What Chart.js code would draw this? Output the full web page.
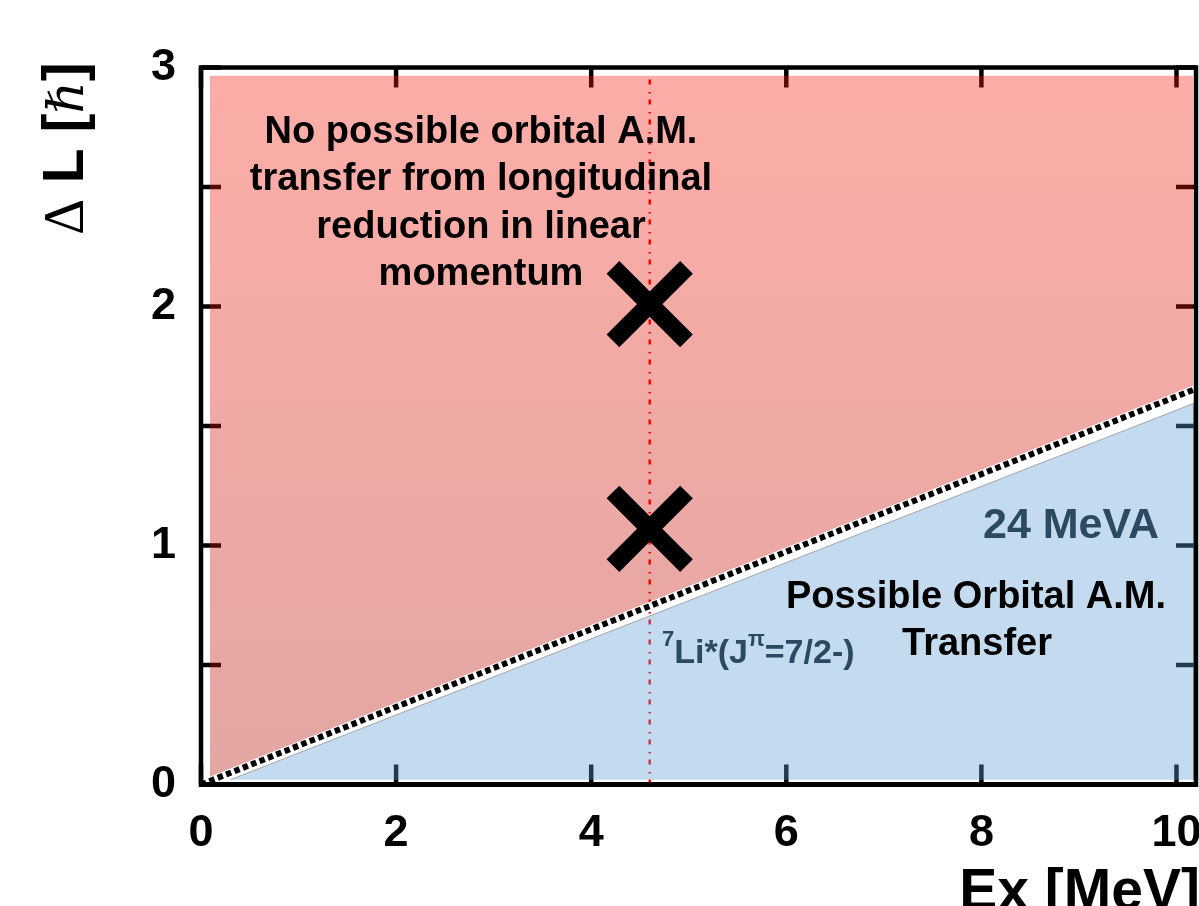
<!DOCTYPE html>
<html>
<head>
<meta charset="utf-8">
<script src="https://cdn.jsdelivr.net/npm/chart.js@4.4.1/dist/chart.umd.min.js"></script>
<style>
  html, body { margin: 0; padding: 0; background: #ffffff; }
  #wrap { width: 1199px; height: 906px; position: relative; }
</style>
</head>
<body>
<div id="wrap"><canvas id="c"></canvas></div>
<script>
// Axis limits and tick steps
const xRange = [0, 10.2];          // Ex [MeV]
const yRange = [0, 3];             // ΔL [ħ]
const xStep = 2;
const yStep = 0.5;

// Kinematic limit at 24 MeV/A: largest ΔL reachable for a given Ex
const limitEx = [0, 10.2];
const limitDL = [0, 1.656];

// Forbidden region (upper band), bounded below by the limit
const forbidTopEx = [0.09, 10.17];
const forbidTopDL = [2.965, 2.965];
const forbidLowEx = [0.09, 10.17];
const forbidLowDL = [0.02, 1.66];

// Allowed region (lower wedge)
const allowEx = [0.3, 10.18, 10.18];
const allowDL = [0.02, 1.595, 0.02];

// 7Li* (Jπ = 7/2-) excitation energy
const stateEx = [4.6, 4.6];
const stateDL = [0, 2.965];

// ΔL values excluded for that state
const crossEx = [4.6, 4.6];
const crossDL = [2.01, 1.07];

const pts = (xs, ys) => xs.map((x, i) => ({ x, y: ys[i] }));

const SANS = '"Liberation Sans", Arial, Helvetica, sans-serif';
const SLATE = '#2b4a5f';

// Inward tick marks on all four sides, drawn beneath the shaded regions,
// then the frame and annotations drawn on top.
const frameAndText = {
  id: 'frameAndText',
  beforeDatasetsDraw(chart) {
    const { ctx, chartArea: a, scales: { x, y } } = chart;
    const L = 20;
    ctx.save();
    ctx.strokeStyle = '#000';
    ctx.lineWidth = 4.5;
    ctx.beginPath();
    x.ticks.forEach(t => {
      const px = x.getPixelForValue(t.value);
      ctx.moveTo(px, a.bottom); ctx.lineTo(px, a.bottom - L);
      ctx.moveTo(px, a.top); ctx.lineTo(px, a.top + L);
    });
    y.ticks.forEach(t => {
      const py = y.getPixelForValue(t.value);
      ctx.moveTo(a.left, py); ctx.lineTo(a.left + L, py);
      ctx.moveTo(a.right, py); ctx.lineTo(a.right - L, py);
    });
    ctx.stroke();
    ctx.restore();
  },
  afterDatasetsDraw(chart) {
    const { ctx, chartArea: a } = chart;
    ctx.save();
    // frame
    ctx.strokeStyle = '#000';
    ctx.lineWidth = 4.5;
    ctx.strokeRect(a.left, a.top, a.right - a.left, a.bottom - a.top);
    ctx.lineWidth = 5;
    ctx.beginPath(); ctx.moveTo(a.left - 2, a.bottom); ctx.lineTo(a.right + 2, a.bottom); ctx.stroke();

    // region labels
    ctx.fillStyle = '#000';
    ctx.textAlign = 'center';
    ctx.textBaseline = 'alphabetic';
    ctx.font = 'bold 38px ' + SANS;
    ['No possible orbital A.M.', 'transfer from longitudinal', 'reduction in linear', 'momentum']
      .forEach((s, i) => ctx.fillText(s, 481, 143 + i * 47.3));
    ctx.fillText('Possible Orbital A.M.', 976, 608);
    ctx.fillText('Transfer', 977, 655);

    ctx.fillStyle = SLATE;
    ctx.font = 'bold 43px ' + SANS;
    ctx.fillText('24 MeVA', 1071, 538);

    // state label with superscripts
    ctx.textAlign = 'left';
    let xp = 662;
    const piece = (txt, size, base) => {
      ctx.font = 'bold ' + size + 'px ' + SANS;
      ctx.fillText(txt, xp, base);
      xp += ctx.measureText(txt).width;
    };
    piece('7', 22, 646);
    piece('Li*(J', 34, 663);
    piece('\u03C0', 22, 646);
    piece('=7/2-)', 34, 663);

    // axis titles
    ctx.fillStyle = '#000';
    ctx.textAlign = 'right';
    ctx.font = 'bold 57px ' + SANS;
    ctx.fillText('Ex [MeV]', 1200, 909);

    ctx.translate(83, 235);
    ctx.rotate(-Math.PI / 2);
    ctx.textAlign = 'left';
    let p = 0;
    [
      ['\u0394', '56px "Liberation Serif", serif'],
      [' L ', 'bold 57px ' + SANS],
      ['[', 'bold 57px ' + SANS],
      ['\u210F', 'italic 50px "DejaVu Serif", serif'],
      [']', 'bold 57px ' + SANS]
    ].forEach(([txt, font]) => {
      ctx.font = font;
      ctx.fillText(txt, p, 0);
      p += ctx.measureText(txt).width;
    });
    ctx.restore();
  }
};

const redGradient = (c) => {
  const ch = c.chart;
  const a = ch.chartArea;
  if (!a) return 'rgba(230,25,10,0.36)';
  const g = ch.ctx.createLinearGradient(0, a.top, 0, a.bottom);
  g.addColorStop(0, 'rgba(250,28,12,0.36)');
  g.addColorStop(1, 'rgba(174,8,0,0.36)');
  return g;
};

new Chart(document.getElementById('c'), {
  type: 'line',
  data: {
    datasets: [
      { // 0: forbidden region, filled down to its lower edge (dataset 1)
        data: pts(forbidTopEx, forbidTopDL),
        borderWidth: 0, pointRadius: 0,
        backgroundColor: redGradient,
        fill: 1, order: 7
      },
      { // 1: lower edge of forbidden region
        data: pts(forbidLowEx, forbidLowDL),
        borderWidth: 0, pointRadius: 0, fill: false, order: 8
      },
      { // 2: 7Li* state
        data: pts(stateEx, stateDL),
        borderColor: '#ff0000', borderWidth: 2.5,
        borderDash: [5, 6, 1.5, 7.5],
        pointRadius: 0, fill: false, order: 6
      },
      { // 3: allowed region
        data: pts(allowEx, allowDL),
        borderColor: 'rgba(110,110,110,0.55)', borderWidth: 1,
        backgroundColor: 'rgba(96,158,212,0.37)',
        pointRadius: 0, fill: { value: 0.02 }, order: 5
      },
      { // 4: white band under the limit line
        data: pts(limitEx, limitDL),
        borderColor: '#ffffff', borderWidth: 8,
        pointRadius: 0, fill: false, order: 4
      },
      { // 5: kinematic limit
        data: pts(limitEx, limitDL),
        borderColor: '#000000', borderWidth: 6,
        borderDash: [5.5, 3.5], borderCapStyle: 'butt',
        pointRadius: 0, fill: false, order: 3
      },
      { // 6: excluded ΔL
        data: pts(crossEx, crossDL),
        showLine: false,
        pointStyle: 'crossRot', pointRadius: 52,
        pointBorderWidth: 18, pointBorderColor: '#000', pointBackgroundColor: '#000',
        borderColor: '#000', order: 1, clip: false
      }
    ]
  },
  options: {
    responsive: true,
    maintainAspectRatio: false,
    animation: false,
    events: [],
    devicePixelRatio: 1,
    layout: { autoPadding: false, padding: { left: 0, top: 67.5, right: 3, bottom: 0 } },
    plugins: { legend: { display: false }, tooltip: { enabled: false } },
    scales: {
      x: {
        type: 'linear',
        min: xRange[0], max: xRange[1],
        grid: { display: false, drawTicks: false },
        border: { display: false },
        ticks: {
          stepSize: xStep, includeBounds: false, padding: 22,
          color: '#000', font: { family: SANS, size: 45, weight: 'bold' },
          maxRotation: 0, autoSkip: false
        },
        afterFit(s) { s.height = 121.5; s.paddingLeft = 0; s.paddingRight = 0; }
      },
      y: {
        type: 'linear',
        min: yRange[0], max: yRange[1],
        grid: { display: false, drawTicks: false },
        border: { display: false },
        ticks: {
          stepSize: yStep, includeBounds: false, padding: 25,
          color: '#000', font: { family: SANS, size: 45, weight: 'bold' },
          autoSkip: false,
          callback: v => (Number.isInteger(v) ? String(v) : '')
        },
        afterFit(s) { s.width = 201; s.paddingTop = 0; s.paddingBottom = 0; }
      }
    }
  },
  plugins: [frameAndText]
});
</script>
</body>
</html>
